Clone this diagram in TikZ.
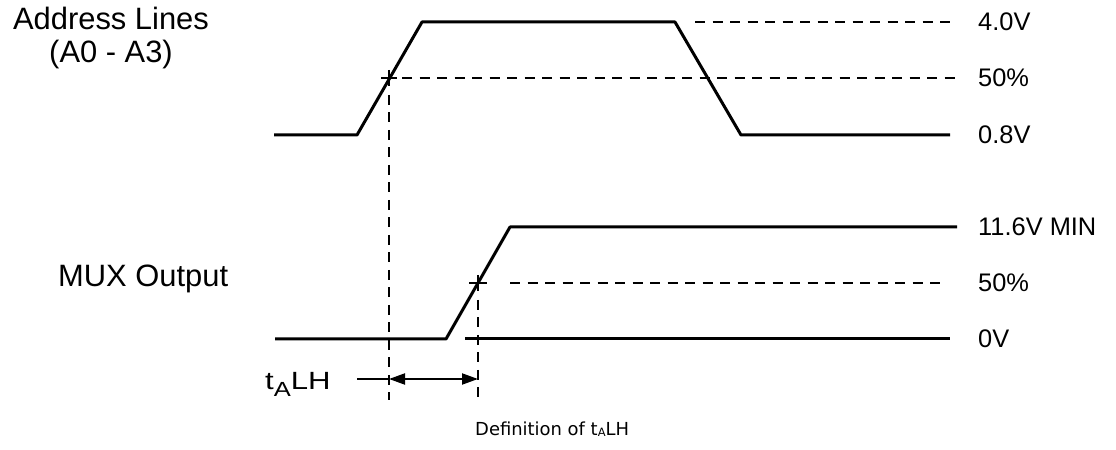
\documentclass[tikz,border=0pt]{standalone}
\usepackage{fontspec}
\setmainfont{Liberation Sans}
\newfontfamily\capfont{DejaVu Sans}
\usetikzlibrary{arrows.meta}
\begin{document}
\begin{tikzpicture}[>={Triangle[length=16bp,width=11bp]},line join=bevel,
  wave/.style={line width=3bp},
  guide/.style={line width=2bp,dash pattern=on 10bp off 7.5bp},
  tick/.style={line width=2bp},
  lvl/.style={anchor=west,inner sep=0pt,font=\fontsize{25.5}{30}\selectfont},
  sig/.style={inner sep=0pt,font=\fontsize{31}{34}\selectfont}]
  \useasboundingbox (0bp,0bp) rectangle (1116bp,450bp);
%%
  % Wave: Address Lines
  \draw [wave] (274bp,315bp) -- (357bp,315bp) -- (422bp,428bp) -- (675bp,428bp) -- (741bp,315bp) -- (950bp,315bp);
  % Wave: MUX Output
  \draw [wave] (275bp,111bp) -- (446bp,111bp) -- (510bp,223bp) -- (957bp,223bp);
  \draw [wave] (465bp,111bp) -- (950bp,111bp);
  % Levels
  \draw [guide] (695bp,428bp) -- (955bp,428bp);
  \draw [guide] (402bp,372bp) -- (955bp,372bp);
  \draw [guide] (510bp,167bp) -- (947bp,167bp);
  % Marks: 50% points
  \draw [tick] (381bp,372bp) -- (397bp,372bp) (389bp,380bp) -- (389bp,364bp);
  \draw [tick] (469bp,167bp) -- (487bp,167bp) (478bp,175bp) -- (478bp,159bp);
  \draw [guide] (389bp,355bp) -- (389bp,50bp);
  \draw [guide] (478bp,150bp) -- (478bp,50bp);
  % Edge: tALH
  \draw [line width=2bp] (357bp,71bp) -- (389bp,71bp);
  \draw [<->,line width=2bp] (389bp,71bp) -- (478bp,71bp);
  % Node: signal names
  \node [sig,anchor=base] (addr) at (111bp,420bp) {Address Lines};
  \node [sig,anchor=base] (addrsub) at (111bp,387bp) {(A0 - A3)};
  \node [sig,anchor=base west] (mux) at (58bp,163bp) {MUX Output};
  % Node: levels
  \node [lvl] (v40) at (978bp,428bp) {4.0V};
  \node [lvl] (a50) at (978bp,372bp) {50\%};
  \node [lvl] (v08) at (978bp,315bp) {0.8V};
  \node [lvl] (v116) at (978bp,223bp) {11.6V MIN};
  \node [lvl] (m50) at (978bp,167bp) {50\%};
  \node [lvl] (v0) at (978bp,111bp) {0V};
  % Node: tALH
  \node [anchor=base west,inner sep=0pt] (tal) at (265bp,60bp) {\scalebox{1.25}[1]{\fontsize{25}{28}\selectfont t\raisebox{-7bp}{\fontsize{20.5}{24}\selectfont A}LH}};
  \node [anchor=base west,inner sep=0pt,font=\capfont\fontsize{18}{21}\selectfont] (cap) at (475bp,15bp) {Definition of t\raisebox{-1bp}{\fontsize{11.5}{12}\selectfont A}LH};
%
\end{tikzpicture}
\end{document}
